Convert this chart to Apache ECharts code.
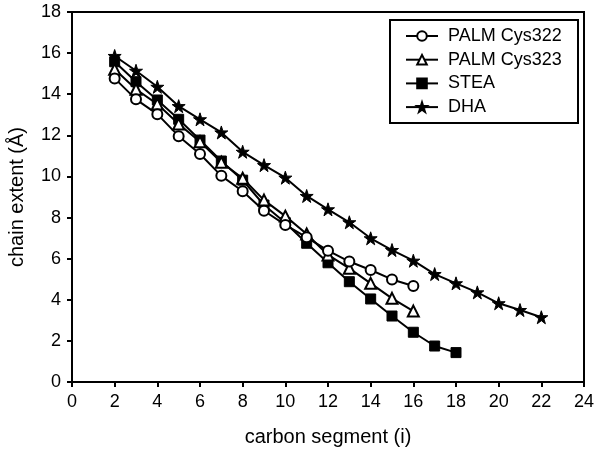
<!DOCTYPE html>
<html>
<head>
<meta charset="utf-8">
<script src="https://cdn.jsdelivr.net/npm/echarts@6/dist/echarts.min.js"></script>
<style>html,body{margin:0;padding:0;background:#fff;}#c{width:600px;height:449px;}</style>
</head>
<body>
<div id="c"></div>
<script>
const seriesNames = ['PALM Cys322', 'PALM Cys323', 'STEA', 'DHA'];
const palm322X = [2,3,4,5,6,7,8,9,10,11,12,13,14,15,16];
const palm322Y = [14.77,13.75,13.03,11.96,11.09,10.03,9.28,8.33,7.64,7.04,6.39,5.86,5.45,4.99,4.67];
const palm323X = [2,3,4,5,6,7,8,9,10,11,12,13,14,15,16];
const palm323Y = [15.21,14.24,13.52,12.55,11.69,10.69,9.91,8.85,8.07,7.20,6.18,5.53,4.80,4.07,3.45];
const steaX = [2,3,4,5,6,7,8,9,10,11,12,13,14,15,16,17,18];
const steaY = [15.58,14.61,13.72,12.78,11.77,10.75,9.82,8.61,7.75,6.75,5.80,4.88,4.04,3.21,2.42,1.75,1.43];
const dhaX = [2,3,4,5,6,7,8,9,10,11,12,13,14,15,16,17,18,19,20,21,22];
const dhaY = [15.86,15.14,14.36,13.42,12.78,12.14,11.20,10.55,9.94,9.05,8.40,7.77,6.99,6.42,5.90,5.25,4.80,4.36,3.83,3.50,3.15];
const xTicks = [0,2,4,6,8,10,12,14,16,18,20,22,24];
const yTicks = [0,2,4,6,8,10,12,14,16,18];

const star = 'path://M50,0 L61.8,35.5 L99,35.5 L69,57.5 L80.5,93 L50,71 L19.5,93 L31,57.5 L1,35.5 L38.2,35.5 Z';
function pairs(xs, ys){ return xs.map((x,i)=>[x, ys[i]]); }

const chart = echarts.init(document.getElementById('c'), null, {renderer:'canvas'});
const font = 'Liberation Sans, Arial, sans-serif';
const lineStyle = {color:'#000', width:2};
chart.setOption({
  animation:false,
  backgroundColor:'#fff',
  textStyle:{fontFamily:font},
  grid:{left:72, top:12, right:16, bottom:67, show:true, borderColor:'#000', borderWidth:2,
        containLabel:false, outerBoundsMode:'none'},
  legend:{
    left:400, top:21, orient:'vertical', itemWidth:32, itemHeight:12, itemGap:3.7,
    textStyle:{fontSize:18, color:'#000', fontFamily:font, lineHeight:20, padding:[0,0,0,5]},
    data:seriesNames
  },
  graphic:[{type:'rect', shape:{x:390, y:20, width:188, height:103}, style:{fill:null, stroke:'#000', lineWidth:2}, z:10}],
  xAxis:{
    type:'value', min:xTicks[0], max:xTicks[xTicks.length-1], interval:2,
    name:'carbon segment (i)', nameLocation:'middle', nameGap:45,
    nameTextStyle:{fontSize:20, color:'#000', fontFamily:font},
    axisLine:{show:true, onZero:false, lineStyle:{color:'#000', width:2}},
    axisTick:{show:true, inside:false, length:5, lineStyle:{color:'#000', width:2}},
    axisLabel:{fontSize:18, color:'#000', margin:11, fontFamily:font},
    splitLine:{show:false}
  },
  yAxis:{
    type:'value', min:yTicks[0], max:yTicks[yTicks.length-1], interval:2,
    name:'chain extent (Å)', nameLocation:'middle', nameGap:45,
    nameTextStyle:{fontSize:20, color:'#000', fontFamily:font},
    axisLine:{show:true, onZero:false, lineStyle:{color:'#000', width:2}},
    axisTick:{show:true, inside:false, length:5, lineStyle:{color:'#000', width:2}},
    axisLabel:{fontSize:18, color:'#000', margin:11, fontFamily:font},
    splitLine:{show:false}
  },
  series:[
    {name:seriesNames[0], type:'line', data:pairs(palm322X, palm322Y), symbol:'circle', symbolSize:10,
     lineStyle:lineStyle, itemStyle:{color:'#fff', borderColor:'#000', borderWidth:2}, z:4},
    {name:seriesNames[1], type:'line', data:pairs(palm323X, palm323Y), symbol:'triangle', symbolSize:11,
     lineStyle:lineStyle, itemStyle:{color:'#fff', borderColor:'#000', borderWidth:2}, z:3},
    {name:seriesNames[2], type:'line', data:pairs(steaX, steaY), symbol:'rect', symbolSize:10,
     lineStyle:lineStyle, itemStyle:{color:'#000', borderColor:'#000', borderWidth:1}, z:2},
    {name:seriesNames[3], type:'line', data:pairs(dhaX, dhaY), symbol:star, symbolSize:13,
     lineStyle:lineStyle, itemStyle:{color:'#000', borderColor:'#000', borderWidth:1}, z:2}
  ]
});
</script>
</body>
</html>
